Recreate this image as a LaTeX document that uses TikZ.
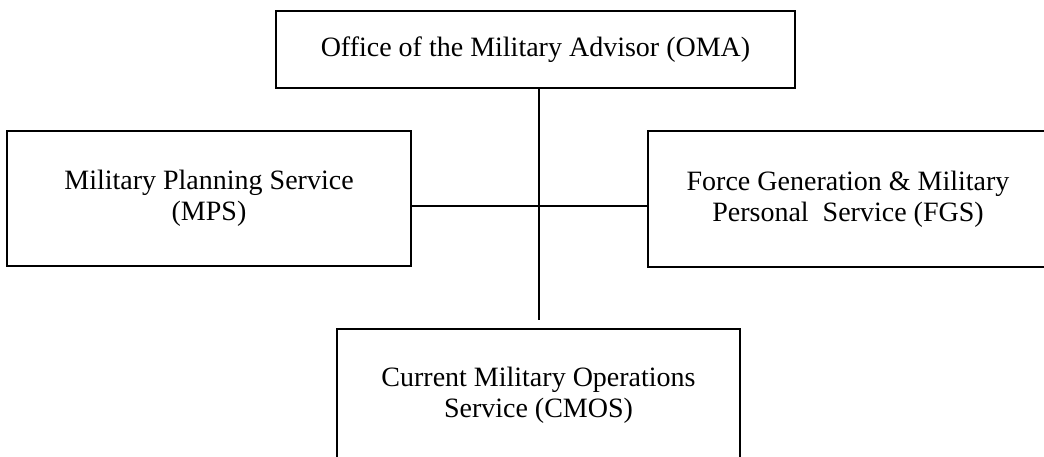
\documentclass[tikz,border=0pt]{standalone}
\usepackage{fontspec}
\setmainfont{Liberation Serif}
\begin{document}
\begin{tikzpicture}[x=1pt,y=-1pt,
  box/.style={draw, line width=1.4pt, inner sep=0pt, align=center, font=\fontsize{28}{31}\selectfont},
  conn/.style={line width=1.4pt}]
\useasboundingbox (0,0) rectangle (1044,456);
\clip (0,0) rectangle (1044,456);
\node[box, minimum width=519pt, minimum height=77pt] (OMA) at (535.5,49.5) {Office of the Military Advisor (OMA)};
\node[box, minimum width=404pt, minimum height=135pt] (MPS) at (209,198.5) {Military Planning Service\\(MPS)};
\node[box, minimum width=400pt, minimum height=136pt] (FGS) at (848,199) {Force Generation \& Military\\Personal\ \ Service (FGS)};
\node[box, minimum width=403pt, minimum height=133pt] (CMOS) at (538.5,395.5) {Current Military Operations\\Service (CMOS)};
\coordinate (vend) at (539,320);
\coordinate (hmid) at (539,206);
\draw[conn] (OMA.south -| vend) -- (vend);
\draw[conn] (MPS.east |- hmid) -- (FGS.west |- hmid);
\end{tikzpicture}
\end{document}
